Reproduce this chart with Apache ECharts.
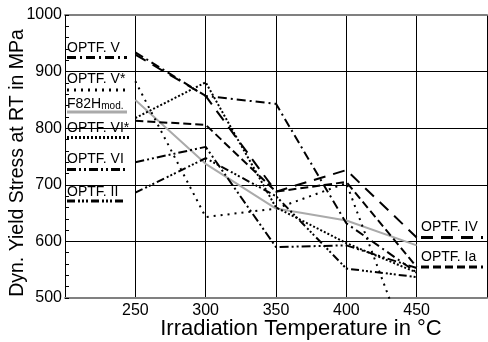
<!DOCTYPE html>
<html>
<head>
<meta charset="utf-8">
<script src="https://cdn.jsdelivr.net/npm/echarts@6/dist/echarts.min.js"></script>
<style>
  html, body { margin: 0; padding: 0; background: #fff; }
  #chart { width: 488px; height: 342px; }
</style>
</head>
<body>
<div id="chart"></div>
<script>
// irradiation temperatures (°C) and dynamic yield stress at RT (MPa)
const temps = [250, 300, 350, 400, 450]
const optfV = [934, 857, 843, 632, 545]
const optfVStar = [883, 643, 658, 703, 370]
const f82hMod = [850, 737, 658, 637, 593]
const optfVIStar = [818, 881, 660, 597, 545]
const optfVI = [740, 767, 590, 593, 553]
const optfII = [686, 747, 680, 552, 537]
const optfIV = [930, 857, 688, 726, 607]
const optfIa = [813, 806, 688, 705, 555]

const xTicks = [250, 300, 350, 400, 450]

const FONT = "'Liberation Sans', Arial, sans-serif"

// dash patterns, reused by the series and the hand-drawn legend
const DASH = {
  V: [9, 4, 2, 4],
  Vs: [2, 5],
  VIs: [2, 2],
  VI: [9, 3, 2, 3, 2, 3],
  II: [8, 3, 2, 2, 2, 2, 2, 3],
  IV: [12, 8],
  Ia: [8, 4],
}

function pts(vals) {
  return temps.map((t, i) => [t, vals[i]])
}

function line(name, vals, dash, color = '#000', width = 2) {
  return {
    name,
    type: 'line',
    symbol: 'none',
    data: pts(vals),
    lineStyle: { color, width, type: dash || 'solid' },
    z: color === '#000' ? 3 : 2,
  }
}

// legend is drawn by hand: label above, line sample under it
function legendItem(label, x, textY, lineY, x2, dash, color = '#000') {
  const text = typeof label === 'string'
    ? { text: label }
    : label
  return [
    {
      type: 'text', x, y: textY, z: 10,
      style: Object.assign({ fill: '#000', font: `14px ${FONT}`, verticalAlign: 'middle' }, text),
    },
    {
      type: 'line', z: 10,
      shape: { x1: x, y1: lineY, x2, y2: lineY },
      style: { stroke: color, lineWidth: 3, lineDash: dash || null },
    },
  ]
}

const f82hLabel = {
  text: '{a|F82H}{b|mod.}',
  rich: {
    a: { fontSize: 14, fontFamily: FONT, fill: '#000' },
    b: { fontSize: 10, fontFamily: FONT, fill: '#000', verticalAlign: 'bottom' },
  },
}

const graphic = [].concat(
  legendItem('OPTF. V', 67, 48, 57.5, 127, DASH.V),
  legendItem('OPTF. V*', 67, 79, 90, 127, DASH.Vs),
  legendItem(f82hLabel, 67, 104, 112, 127, null, '#aaaaaa'),
  legendItem('OPTF. VI*', 67, 128, 137.5, 129, DASH.VIs),
  legendItem('OPTF. VI', 67, 159, 169.5, 127, DASH.VI),
  legendItem('OPTF. II', 67, 192, 201, 124, DASH.II),
  legendItem('OPTF. IV', 421, 227, 237.5, 483, DASH.IV),
  legendItem('OPTF. Ia', 421, 257.5, 267, 483, DASH.Ia),
)

const chart = echarts.init(document.getElementById('chart'), null, { renderer: 'canvas' })

chart.setOption({
  animation: false,
  textStyle: { fontFamily: FONT },
  grid: { left: 65, right: 1, top: 15, bottom: 44, containLabel: false, outerBoundsMode: 'none' },
  xAxis: [
    {
      type: 'value',
      min: 200,
      max: 500,
      interval: 50,
      name: 'Irradiation Temperature in °C',
      nameLocation: 'middle',
      nameGap: 20,
      nameMoveOverlap: false,
      nameTextStyle: { fontSize: 22, color: '#000', fontFamily: FONT, padding: [0, 0, 0, 50] },
      axisLine: { show: true, lineStyle: { color: '#808080', width: 2 } },
      axisTick: { show: false },
      axisLabel: {
        margin: 5,
        fontSize: 16,
        color: '#000',
        fontFamily: FONT,
        formatter: v => (xTicks.includes(v) ? String(v) : ''),
      },
      splitLine: { show: true, lineStyle: { color: '#000', width: 1 } },
    },
    {
      // top frame line
      type: 'value',
      position: 'top',
      min: 200,
      max: 500,
      axisLine: { show: true, lineStyle: { color: '#808080', width: 2 } },
      axisTick: { show: false },
      axisLabel: { show: false },
      splitLine: { show: false },
    },
  ],
  yAxis: {
    type: 'value',
    min: 500,
    max: 1000,
    interval: 100,
    name: 'Dyn. Yield Stress at RT in MPa',
    nameLocation: 'middle',
    nameGap: 37,
    nameMoveOverlap: false,
    nameTextStyle: { fontSize: 19.5, color: '#000', fontFamily: FONT, padding: [0, 13, 0, 0] },
    axisLine: { show: true, lineStyle: { color: '#000', width: 1 } },
    axisTick: { show: true, inside: true, length: 4, lineStyle: { color: '#000' } },
    minorTick: { show: true, splitNumber: 5, length: 4, lineStyle: { color: '#000' } },
    axisLabel: { margin: 3, fontSize: 16, color: '#000', fontFamily: FONT, formatter: v => String(v) },
    splitLine: {
      show: true,
      lineStyle: { color: ['#808080', '#000', '#000', '#000', '#000', '#808080'], width: 1 },
    },
  },
  series: [
    line('OPTF. V', optfV, DASH.V),
    line('OPTF. V*', optfVStar, DASH.Vs),
    line('F82Hmod.', f82hMod, null, '#aaaaaa', 2),
    line('OPTF. VI*', optfVIStar, DASH.VIs),
    line('OPTF. VI', optfVI, DASH.VI),
    line('OPTF. II', optfII, DASH.II),
    line('OPTF. IV', optfIV, DASH.IV),
    line('OPTF. Ia', optfIa, DASH.Ia),
  ],
  graphic,
})
</script>
</body>
</html>
